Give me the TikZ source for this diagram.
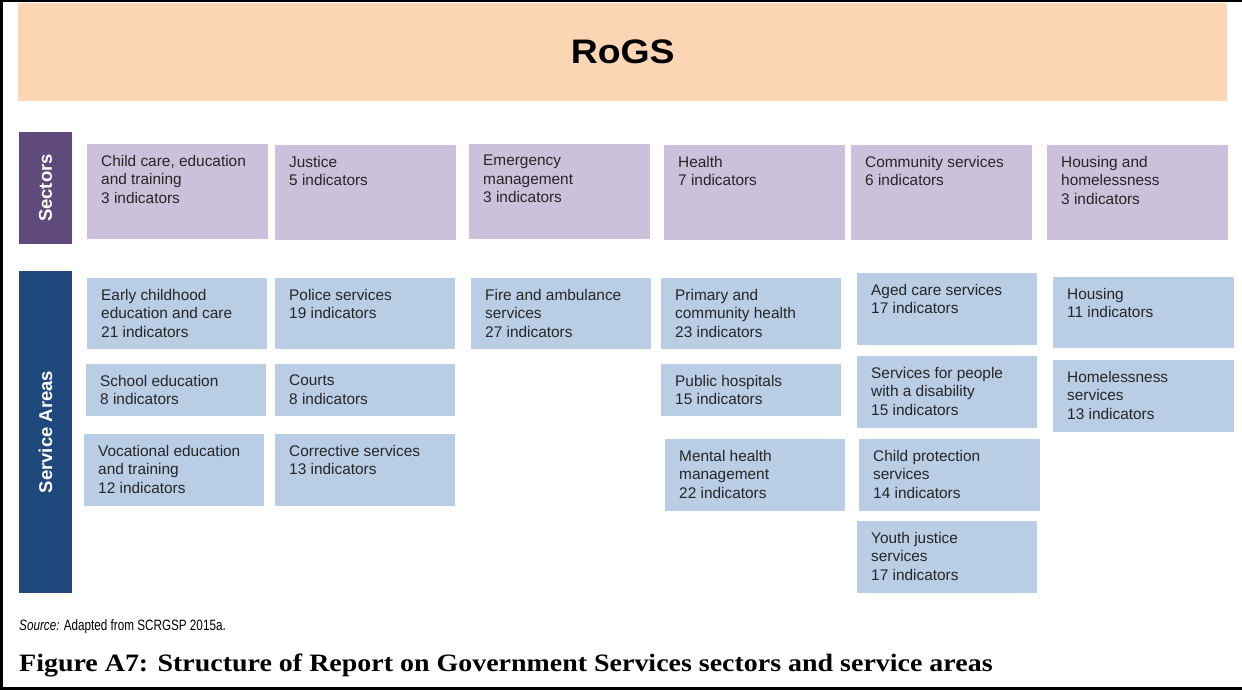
\documentclass[tikz,border=0pt]{standalone}
\usepackage{fontspec}
\setmainfont{Liberation Sans}
\newfontfamily\captionserif{Liberation Serif}
\definecolor{peach}{HTML}{FCD5B5}
\definecolor{secdark}{HTML}{604A7B}
\definecolor{seclight}{HTML}{CCC1DA}
\definecolor{svcdark}{HTML}{1F497D}
\definecolor{svclight}{HTML}{B9CDE5}
\definecolor{boxink}{HTML}{262626}

\begin{document}
\begin{tikzpicture}[x=1pt,y=-1pt,
  secbox/.style={anchor=north west,fill=seclight,inner sep=0,minimum width=181,minimum height=95},
  svcbox/.style={anchor=north west,fill=svclight,inner sep=0,minimum width=180,minimum height=71},
  boxtext/.style={anchor=north west,inner sep=0,align=left,text=boxink,font=\fontsize{15.4}{18.6}\selectfont},
  sidelabel/.style={rotate=90,text=white,inner sep=0,font=\fontsize{18.5}{20}\selectfont\bfseries}]
\useasboundingbox (0,0) rectangle (1242,690);

% frame
\fill (0,0) rectangle (1242,2);
\fill (0,0) rectangle (3,690);
\fill (0,687) rectangle (1242,690);

% title band
\node[anchor=north west,fill=peach,inner sep=0,minimum width=1209,minimum height=98,
  font=\fontsize{34}{36}\selectfont\bfseries] (rogs) at (18,3) {\scalebox{1.1}[1]{RoGS}};

% side labels
\node[sidelabel,fill=secdark,minimum width=112,minimum height=53] (sectors) at (45.5,188) {Sectors};
\node[sidelabel,fill=svcdark,minimum width=322,minimum height=53] (areas) at (45.5,432) {Service Areas};

% sectors
\node[secbox] (child) at (87,144) {};
\node[secbox] (justice) at (275,145) {};
\node[secbox] (emerg) at (469,144) {};
\node[secbox] (health) at (664,145) {};
\node[secbox] (comm) at (851,145) {};
\node[secbox] (housing) at (1047,145) {};

\node[boxtext] (child-t) at ([shift={(14,11)}]child.north west) {Child care, education\\and training\\3 indicators};
\node[boxtext] (justice-t) at ([shift={(14,11)}]justice.north west) {Justice\\5 indicators};
\node[boxtext] (emerg-t) at ([shift={(14,11)}]emerg.north west) {Emergency\\management\\3 indicators};
\node[boxtext] (health-t) at ([shift={(14,11)}]health.north west) {Health\\7 indicators};
\node[boxtext] (comm-t) at ([shift={(14,11)}]comm.north west) {Community services\\6 indicators};
\node[boxtext] (housing-t) at ([shift={(14,11)}]housing.north west) {Housing and\\homelessness\\3 indicators};

% service areas
\node[svcbox] (early) at (87,278) {};
\node[svcbox,minimum height=52] (school) at (86,364) {};
\node[svcbox,minimum height=72] (voc) at (84,434) {};
\node[svcbox] (police) at (275,278) {};
\node[svcbox,minimum height=52] (courts) at (275,364) {};
\node[svcbox,minimum height=72] (correct) at (275,434) {};
\node[svcbox] (fire) at (471,278) {};
\node[svcbox] (primary) at (661,278) {};
\node[svcbox,minimum height=52] (hospitals) at (661,364) {};
\node[svcbox,minimum height=72] (mental) at (665,439) {};
\node[svcbox,minimum height=72] (aged) at (857,273) {};
\node[svcbox,minimum height=72] (disab) at (857,356) {};
\node[svcbox,minimum width=181,minimum height=72] (protect) at (859,439) {};
\node[svcbox,minimum height=72] (youth) at (857,521) {};
\node[svcbox,minimum width=181] (house) at (1053,277) {};
\node[svcbox,minimum width=181,minimum height=72] (homeless) at (1053,360) {};

\node[boxtext] (early-t) at ([shift={(14,11)}]early.north west) {Early childhood\\education and care\\21 indicators};
\node[boxtext] (school-t) at ([shift={(14,11)}]school.north west) {School education\\8 indicators};
\node[boxtext] (voc-t) at ([shift={(14,11)}]voc.north west) {Vocational education\\and training\\12 indicators};
\node[boxtext] (police-t) at ([shift={(14,11)}]police.north west) {Police services\\19 indicators};
\node[boxtext] (courts-t) at ([shift={(14,11)}]courts.north west) {Courts\\8 indicators};
\node[boxtext] (correct-t) at ([shift={(14,11)}]correct.north west) {Corrective services\\13 indicators};
\node[boxtext] (fire-t) at ([shift={(14,11)}]fire.north west) {Fire and ambulance\\services\\27 indicators};
\node[boxtext] (primary-t) at ([shift={(14,11)}]primary.north west) {Primary and\\community health\\23 indicators};
\node[boxtext] (hospitals-t) at ([shift={(14,11)}]hospitals.north west) {Public hospitals\\15 indicators};
\node[boxtext] (mental-t) at ([shift={(14,11)}]mental.north west) {Mental health\\management\\22 indicators};
\node[boxtext] (aged-t) at ([shift={(14,11)}]aged.north west) {Aged care services\\17 indicators};
\node[boxtext] (disab-t) at ([shift={(14,11)}]disab.north west) {Services for people\\with a disability\\15 indicators};
\node[boxtext] (protect-t) at ([shift={(14,11)}]protect.north west) {Child protection\\services\\14 indicators};
\node[boxtext] (youth-t) at ([shift={(14,11)}]youth.north west) {Youth justice\\services\\17 indicators};
\node[boxtext] (house-t) at ([shift={(14,11)}]house.north west) {Housing\\11 indicators};
\node[boxtext] (homeless-t) at ([shift={(14,11)}]homeless.north west) {Homelessness\\services\\13 indicators};

% source and caption
\node[anchor=base west,inner sep=0,font=\fontsize{15}{18}\selectfont] (source) at (19,630)
  {\scalebox{0.78}[1]{\textit{Source:} Adapted from SCRGSP 2015a.}};
\node[anchor=base west,inner sep=0,font=\fontsize{25}{28}\selectfont\captionserif\bfseries] (caption) at (19,671)
  {\scalebox{1.118}[1]{Figure A7: Structure of Report on Government Services sectors and service areas}};
\end{tikzpicture}
\end{document}
